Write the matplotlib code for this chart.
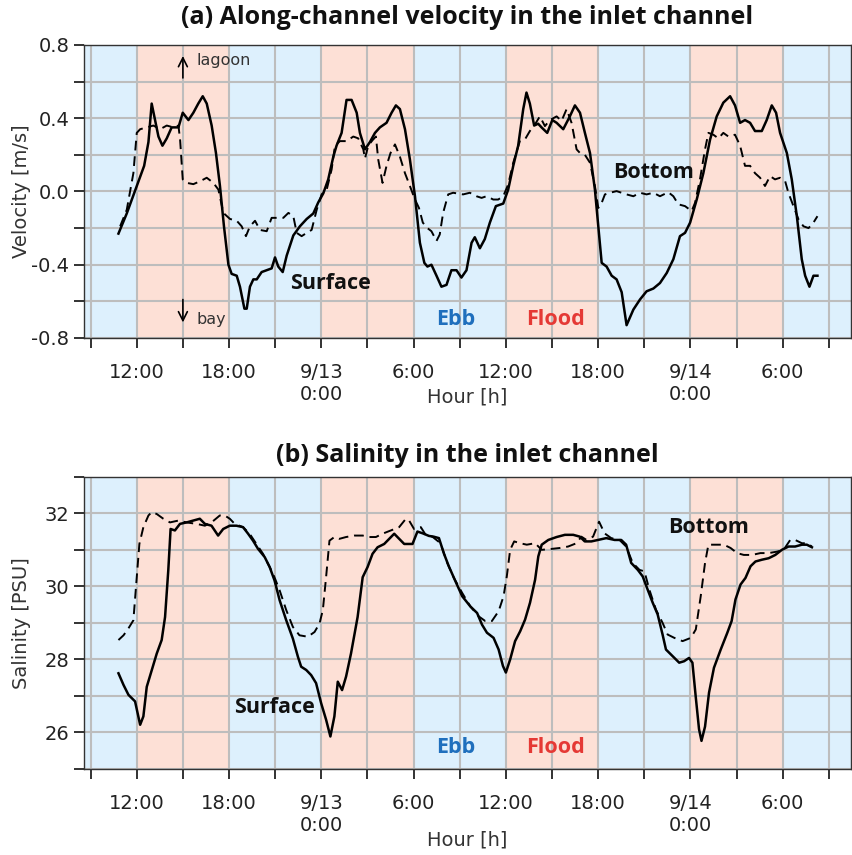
import numpy as np
import matplotlib.pyplot as plt
from matplotlib.ticker import MultipleLocator

# hours counted from 9/12 0:00
vel_surf_h = [10.81, 11.35, 12.11, 12.48, 12.76, 12.97, 13.19, 13.41, 13.67, 13.95, 14.27, 14.71, 14.99,
              15.36, 15.68, 16.0, 16.29, 16.55, 16.87, 17.15, 17.41, 17.67, 17.96, 18.17, 18.5, 18.71,
              19.0, 19.15, 19.36, 19.58, 19.8, 20.12, 20.45, 20.77, 20.99, 21.2, 21.49, 21.75, 22.18,
              22.61, 23.05, 23.48, 23.8, 24.13, 24.45, 24.78, 24.99, 25.32, 25.64, 25.97, 26.3, 26.51,
              26.84, 27.16, 27.49, 27.81, 28.24, 28.57, 28.85, 29.11, 29.44, 29.76, 30.09, 30.41, 30.7,
              30.9, 31.16, 31.49, 31.81, 32.14, 32.46, 32.79, 33.11, 33.44, 33.77, 33.98, 34.31, 34.63,
              34.96, 35.35, 35.83, 36.15, 36.48, 36.8, 37.13, 37.34, 37.56, 37.84, 38.1, 38.32, 38.69,
              39.02, 39.3, 39.73, 40.16, 40.49, 40.82, 41.14, 41.47, 41.79, 42.01, 42.23, 42.55, 42.88,
              43.2, 43.53, 43.85, 44.29, 44.72, 45.15, 45.59, 46.02, 46.46, 46.89, 47.32, 47.65, 47.98,
              48.41, 48.84, 49.28, 49.71, 50.14, 50.58, 50.9, 51.23, 51.55, 51.88, 52.2, 52.64, 52.96,
              53.29, 53.57, 53.83, 54.27, 54.59, 54.92, 55.24, 55.46, 55.74, 56.0, 56.26]
vel_surf = [-0.23, -0.12, 0.056, 0.14, 0.27, 0.48, 0.39, 0.30, 0.25, 0.29, 0.35, 0.35, 0.43,
            0.39, 0.43, 0.48, 0.52, 0.48, 0.36, 0.21, 0.03, -0.19, -0.40, -0.45, -0.46, -0.52,
            -0.64, -0.64, -0.52, -0.48, -0.48, -0.44, -0.43, -0.42, -0.36, -0.41, -0.44, -0.35, -0.24,
            -0.19, -0.15, -0.12, -0.06, -0.01, 0.066, 0.19, 0.25, 0.32, 0.50, 0.50, 0.43, 0.32,
            0.23, 0.27, 0.32, 0.35, 0.375, 0.43, 0.47, 0.45, 0.34, 0.175, -0.026, -0.28, -0.39,
            -0.41, -0.40, -0.46, -0.52, -0.51, -0.43, -0.43, -0.47, -0.43, -0.28, -0.25, -0.31, -0.26,
            -0.17, -0.08, -0.066, 0.01, 0.14, 0.25, 0.45, 0.54, 0.48, 0.36, 0.37, 0.35, 0.32,
            0.39, 0.375, 0.34, 0.41, 0.47, 0.43, 0.32, 0.21, 0.01, -0.19, -0.39, -0.41, -0.46,
            -0.48, -0.55, -0.73, -0.645, -0.59, -0.545, -0.53, -0.50, -0.445, -0.37, -0.244, -0.226, -0.17,
            -0.044, 0.10, 0.284, 0.41, 0.485, 0.52, 0.47, 0.375, 0.39, 0.375, 0.33, 0.33, 0.39,
            0.47, 0.43, 0.32, 0.21, 0.066, -0.135, -0.37, -0.46, -0.52, -0.46, -0.46]

vel_bot_h = [10.92, 11.35, 11.78, 12.0, 12.22, 12.65, 13.08, 13.52, 13.95, 14.38, 14.71, 14.82, 14.99,
             15.25, 15.68, 16.12, 16.55, 16.98, 17.31, 17.63, 18.06, 18.5, 18.82, 19.1, 19.36, 19.69,
             20.01, 20.45, 20.77, 21.1, 21.53, 21.86, 22.18, 22.4, 22.72, 23.05, 23.37, 23.7, 24.02,
             24.35, 24.67, 24.89, 25.21, 25.64, 26.08, 26.4, 26.73, 26.84, 27.05, 27.33, 27.55, 27.7,
             27.98, 28.24, 28.5, 28.79, 29.11, 29.44, 29.76, 30.09, 30.35, 30.6, 30.9, 31.16, 31.49,
             31.7, 31.92, 32.25, 32.57, 33.22, 33.66, 34.09, 34.42, 34.74, 35.18, 35.5, 35.83, 36.15,
             36.48, 36.91, 37.24, 37.56, 37.89, 38.21, 38.54, 38.86, 39.08, 39.3, 39.62, 39.95, 40.27,
             40.6, 40.82, 41.14, 41.47, 41.79, 42.01, 42.23, 42.44, 42.77, 43.2, 43.53, 43.85, 44.29,
             44.72, 45.15, 45.59, 46.02, 46.56, 46.89, 47.21, 47.65, 48.08, 48.3, 48.62, 48.95, 49.17,
             49.49, 49.82, 50.14, 50.47, 50.9, 51.23, 51.55, 51.88, 52.2, 52.53, 52.85, 53.18, 53.5,
             53.83, 54.16, 54.37, 54.7, 55.03, 55.35, 55.68, 56.0, 56.26]
vel_bot = [-0.19, -0.10, 0.10, 0.32, 0.34, 0.35, 0.36, 0.34, 0.36, 0.35, 0.36, 0.28, 0.066,
           0.047, 0.04, 0.056, 0.075, 0.047, 0.01, -0.117, -0.15, -0.16, -0.19, -0.244, -0.19, -0.16,
           -0.21, -0.217, -0.144, -0.144, -0.144, -0.117, -0.135, -0.226, -0.244, -0.226, -0.21, -0.10, -0.016,
           0.01, 0.12, 0.25, 0.275, 0.275, 0.30, 0.29, 0.23, 0.18, 0.25, 0.28, 0.30, 0.175,
           0.047, 0.14, 0.21, 0.257, 0.19, 0.10, 0.03, -0.044, -0.09, -0.17, -0.20, -0.217, -0.27,
           -0.235, -0.117, -0.016, -0.007, -0.016, -0.007, -0.026, -0.035, -0.026, -0.044, -0.044, -0.026, 0.038,
           0.157, 0.275, 0.284, 0.33, 0.366, 0.41, 0.357, 0.39, 0.40, 0.41, 0.385, 0.45, 0.375,
           0.23, 0.21, 0.20, 0.157, 0.03, -0.09, -0.062, -0.016, -0.007, 0.002, -0.007, -0.016, -0.026,
           -0.007, -0.016, -0.007, -0.026, -0.004, -0.026, -0.07, -0.08, -0.107, -0.062, 0.066, 0.23, 0.32,
           0.31, 0.29, 0.32, 0.30, 0.31, 0.25, 0.14, 0.14, 0.10, 0.075, 0.03, 0.084, 0.066,
           0.075, 0.056, -0.007, -0.08, -0.153, -0.19, -0.2, -0.17, -0.135]

sal_surf_h = [10.81, 11.14, 11.46, 11.89, 12.22, 12.43, 12.65, 12.97, 13.3, 13.62, 13.84, 14.05, 14.2,
              14.48, 14.81, 15.24, 15.67, 16.1, 16.43, 16.86, 17.29, 17.62, 18.05, 18.48, 18.91, 19.24,
              19.56, 19.88, 20.32, 20.64, 20.96, 21.29, 21.72, 22.15, 22.48, 22.69, 23.02, 23.34, 23.66,
              23.99, 24.31, 24.59, 24.85, 25.07, 25.35, 25.61, 25.93, 26.36, 26.69, 27.01, 27.33, 27.66,
              28.09, 28.41, 28.74, 29.06, 29.39, 29.93, 30.25, 30.6, 31.0, 31.3, 31.65, 31.97, 32.29,
              32.72, 33.16, 33.69, 34.13, 34.45, 34.77, 35.2, 35.53, 35.81, 36.0, 36.28, 36.6, 36.93,
              37.25, 37.57, 37.9, 38.11, 38.33, 38.76, 39.3, 39.84, 40.38, 40.81, 41.13, 41.56, 41.99,
              42.53, 43.07, 43.5, 43.82, 44.15, 44.58, 44.9, 45.22, 45.55, 45.87, 46.19, 46.41, 46.84,
              47.27, 47.59, 47.91, 48.13, 48.34, 48.56, 48.72, 48.95, 49.21, 49.53, 49.97, 50.4, 50.68,
              50.93, 51.26, 51.58, 51.91, 52.23, 52.66, 53.09, 53.52, 53.95, 54.38, 54.81, 55.25, 55.57,
              55.9]
sal_surf = [27.62, 27.3, 27.03, 26.85, 26.21, 26.44, 27.25, 27.7, 28.16, 28.53, 29.16, 30.44, 31.57,
            31.53, 31.71, 31.75, 31.8, 31.85, 31.71, 31.66, 31.39, 31.57, 31.66, 31.66, 31.62, 31.44,
            31.25, 31.03, 30.8, 30.53, 30.16, 29.62, 29.07, 28.57, 28.07, 27.8, 27.71, 27.57, 27.35,
            26.8, 26.35, 25.89, 26.44, 27.39, 27.16, 27.53, 28.16, 29.16, 30.25, 30.53, 30.89, 31.07,
            31.16, 31.3, 31.44, 31.3, 31.16, 31.16, 31.5, 31.45, 31.38, 31.36, 31.32, 30.9, 30.55,
            30.14, 29.73, 29.45, 29.27, 28.95, 28.73, 28.59, 28.27, 27.82, 27.64, 28.0, 28.5, 28.77,
            29.09, 29.55, 30.18, 30.82, 31.14, 31.27, 31.35, 31.41, 31.41, 31.36, 31.23, 31.23, 31.27,
            31.32, 31.27, 31.27, 31.14, 30.64, 30.45, 30.27, 29.91, 29.55, 29.23, 28.68, 28.27, 28.09,
            27.91, 27.95, 28.04, 27.91, 27.0, 26.09, 25.77, 26.16, 27.09, 27.77, 28.27, 28.73, 29.05,
            29.64, 30.05, 30.23, 30.55, 30.68, 30.73, 30.77, 30.86, 31.0, 31.09, 31.09, 31.14, 31.14,
            31.07]

sal_bot_h = [10.81, 11.14, 11.46, 11.78, 12.0, 12.17, 12.43, 12.76, 12.97, 13.3, 13.73, 14.16, 14.7,
             15.24, 15.89, 16.43, 16.86, 17.4, 17.72, 18.05, 18.37, 18.91, 19.34, 19.78, 20.21, 20.53,
             20.86, 21.29, 21.72, 22.15, 22.58, 23.12, 23.56, 23.88, 24.1, 24.31, 24.53, 24.85, 25.17,
             25.61, 26.15, 26.69, 27.12, 27.55, 27.98, 28.52, 29.06, 29.5, 29.71, 30.03, 30.47, 30.8,
             31.22, 31.75, 32.19, 32.62, 33.16, 33.69, 34.23, 34.66, 35.09, 35.53, 35.85, 36.06, 36.28,
             36.54, 36.93, 37.36, 37.9, 38.33, 38.87, 39.51, 40.05, 40.59, 40.91, 41.24, 41.67, 42.06,
             42.42, 42.85, 43.39, 43.82, 44.25, 44.69, 45.01, 45.33, 45.76, 46.19, 46.52, 46.95, 47.49,
             48.03, 48.35, 48.67, 48.95, 49.17, 49.64, 50.18, 50.61, 51.04, 51.47, 52.01, 52.55, 53.09,
             53.63, 54.06, 54.49, 54.81, 55.25, 55.57, 55.9]
sal_bot = [28.53, 28.66, 28.85, 29.07, 30.25, 31.16, 31.62, 31.94, 32.03, 31.98, 31.85, 31.75, 31.8,
           31.75, 31.71, 31.66, 31.75, 31.94, 31.94, 31.85, 31.71, 31.62, 31.44, 31.16, 30.89, 30.62,
           30.35, 29.89, 29.35, 28.89, 28.66, 28.62, 28.75, 28.98, 29.35, 30.25, 31.25, 31.35, 31.3,
           31.35, 31.39, 31.39, 31.35, 31.35, 31.44, 31.53, 31.62, 31.85, 31.8, 31.57, 31.62, 31.4,
           31.36, 31.18, 30.64, 30.23, 29.82, 29.45, 29.18, 29.05, 29.05, 29.32, 29.73, 30.27, 31.0,
           31.23, 31.18, 31.14, 31.18, 31.0, 31.02, 31.05, 31.09, 31.18, 31.36, 31.27, 31.36, 31.77,
           31.45, 31.32, 31.27, 31.09, 30.64, 30.45, 30.41, 29.91, 29.36, 29.0, 28.68, 28.59, 28.5,
           28.59, 28.82, 29.73, 30.64, 31.14, 31.14, 31.14, 31.05, 30.91, 30.86, 30.86, 30.91, 30.91,
           30.95, 31.0, 31.27, 31.27, 31.18, 31.18, 31.09]

tick_hours = [12, 18, 24, 30, 36, 42, 48, 54]
tick_labels = ['12:00', '18:00', '9/13\n0:00', '6:00', '12:00', '18:00', '9/14\n0:00', '6:00']
flood_starts = [12, 24, 36, 48]

blue_bg = '#ddf0fd'
red_bg = '#fde0d6'
tick_font = 'DejaVu Sans'
bold_font = 'Open Sans'

fig = plt.figure(figsize=(8.52, 8.55), dpi=100)
ax1 = fig.add_axes([0.0986, 0.6047, 0.9002, 0.3427])
ax2 = fig.add_axes([0.0986, 0.1006, 0.9002, 0.3418])


def setup(ax, ylim, major, minor, xlab_y):
    ax.set_xlim(8.57, 58.44)
    ax.set_ylim(*ylim)
    ax.set_facecolor(blue_bg)
    for s in flood_starts:
        ax.axvspan(s, s + 6, color=red_bg, lw=0, zorder=0)
    ax.set_xticks(tick_hours)
    ax.set_xticklabels(tick_labels, fontsize=14, family=tick_font, color='#222222',
                       linespacing=1.2)
    ax.xaxis.set_minor_locator(MultipleLocator(3))
    ax.yaxis.set_major_locator(MultipleLocator(major))
    ax.yaxis.set_minor_locator(MultipleLocator(minor))
    ax.grid(True, which='both', color='#bdbdbd', lw=1.5, zorder=1)
    ax.set_axisbelow(True)
    ax.tick_params(which='both', direction='out', length=7, width=1.3, color='#222222',
                   labelsize=14)
    ax.tick_params(axis='x', which='both', pad=11)
    for lab in ax.get_yticklabels():
        lab.set_family(tick_font)
        lab.set_color('#222222')
    for sp in ax.spines.values():
        sp.set_color('#333333')
        sp.set_linewidth(1.0)
    ax.set_xlabel('Hour [h]', fontsize=14, family=tick_font, color='#333333', va='center')
    ax.xaxis.set_label_coords(0.5, xlab_y)


def label(ax, x, y, s, color='#111111'):
    ax.text(x, y, s, fontsize=15.5, fontweight='bold', family=bold_font,
            ha='center', va='center', color=color)


# (a) velocity
setup(ax1, (-0.8, 0.8), 0.4, 0.2, -0.201)
ax1.set_yticklabels([f'{v:.1f}' for v in ax1.get_yticks()])
ax1.plot(vel_bot_h, vel_bot, color='black', lw=1.4, ls=(0, (5, 3)), zorder=3)
ax1.plot(vel_surf_h, vel_surf, color='black', lw=1.8, zorder=4)
ax1.set_ylabel('Velocity [m/s]', fontsize=14, family=tick_font, color='#333333', va='center')
ax1.yaxis.set_label_coords(-0.081, 0.5)
arrow = dict(arrowstyle='->', color='black', lw=1.2, mutation_scale=16, shrinkA=0, shrinkB=0)
ax1.annotate('', xy=(15, 0.74), xytext=(15, 0.62), arrowprops=arrow)
ax1.text(15.9, 0.715, 'lagoon', fontsize=11.5, family=tick_font, color='#333333', va='center')
ax1.annotate('', xy=(15, -0.715), xytext=(15, -0.59), arrowprops=arrow)
ax1.text(15.9, -0.70, 'bay', fontsize=11.5, family=tick_font, color='#333333', va='center')
label(ax1, 24.57, -0.50, 'Surface')
label(ax1, 45.63, 0.106, 'Bottom')
label(ax1, 32.76, -0.70, 'Ebb', '#1f6fbd')
label(ax1, 39.2, -0.70, 'Flood', '#e53935')

# (b) salinity
setup(ax2, (25, 33), 2, 1, -0.243)
ax2.set_yticks([26, 28, 30, 32])
ax2.yaxis.set_minor_locator(MultipleLocator(1))
ax2.plot(sal_bot_h, sal_bot, color='black', lw=1.4, ls=(0, (5, 3)), zorder=3)
ax2.plot(sal_surf_h, sal_surf, color='black', lw=1.8, zorder=4)
ax2.set_ylabel('Salinity [PSU]', fontsize=14, family=tick_font, color='#333333', va='center')
ax2.yaxis.set_label_coords(-0.081, 0.5)
label(ax2, 20.93, 26.67, 'Surface')
label(ax2, 49.2, 31.61, 'Bottom')
label(ax2, 32.76, 25.58, 'Ebb', '#1f6fbd')
label(ax2, 39.2, 25.58, 'Flood', '#e53935')

fig.text(0.5487, 1 - 17 / 855, '(a) Along-channel velocity in the inlet channel', fontsize=18,
         fontweight='bold', family=bold_font, ha='center', va='center', color='#111111')
fig.text(0.5487, 1 - 455 / 855, '(b) Salinity in the inlet channel', fontsize=18,
         fontweight='bold', family=bold_font, ha='center', va='center', color='#111111')

fig.savefig('out.png', dpi=100)
